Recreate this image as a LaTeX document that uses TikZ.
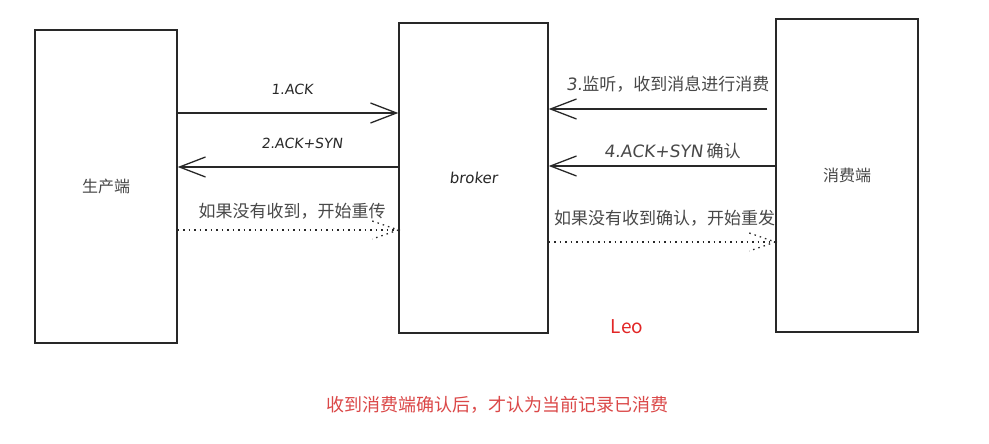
\documentclass[tikz,border=0pt]{standalone}
\usepackage{fontspec}
\newfontfamily\cjk{Noto Sans CJK SC}
\newfontfamily\hand[FakeSlant=0.12]{DejaVu Sans}
\usetikzlibrary{arrows.meta,calc}

\definecolor{leored}{RGB}{226,38,38}
\definecolor{notered}{RGB}{219,72,72}
\definecolor{ink}{RGB}{40,40,40}

\tikzset{
  party/.style={draw=ink, line width=1.4pt, fill=white, inner sep=0pt},
  msg/.style={draw=ink, line width=1.3pt, -{Straight Barb[length=26pt,width=20pt,line width=1.3pt]}},
  retry/.style={draw=ink, line width=1.3pt, dash pattern=on 1.5pt off 4pt},
  steplabel/.style={font=\hand\fontsize{14}{16}\selectfont, text=ink},
  cnlabel/.style={font=\cjk\fontsize{17}{20}\selectfont, text=ink!85},
}

\newcommand{\dotchevron}[1]{%
  \draw[retry] ($(#1)+(-26,-9)$) -- (#1) -- ($(#1)+(-26,9)$);}

\begin{document}
\begin{tikzpicture}[x=1pt,y=-1pt]

\useasboundingbox[fill=white] (0,0) rectangle (989,444);

% =========================
% the three parties
% =========================
\node[party, minimum width=142pt, minimum height=313pt] (prod) at (106,186.5) {};
\node[party, minimum width=149pt, minimum height=310pt] (broker) at (473.5,178) {};
\node[party, minimum width=142pt, minimum height=313pt] (cons) at (847,175.5) {};

\node[font=\cjk\fontsize{16}{18}\selectfont, text=ink!85] (prodname) at (prod) {生产端};
\node[font=\hand\fontsize{15}{17}\selectfont, text=ink] (brokername) at (broker) {broker};
\node[font=\cjk\fontsize{16}{18}\selectfont, text=ink!85] (consname) at (cons) {消费端};

% =========================
% producer <-> broker
% =========================
\coordinate (y1) at (0,113);
\coordinate (y2) at (0,167);
\coordinate (y3) at (0,230);

\draw[msg] (prod.east |- y1) -- (broker.west |- y1);
\draw[msg] (broker.west |- y2) -- (prod.east |- y2);

\coordinate (r1end) at (broker.west |- y3);
\draw[retry] (prod.east |- y3) -- (r1end);
\dotchevron{r1end}

\node[steplabel] (lbl1) at (292,89) {1.ACK};
\node[steplabel] (lbl2) at (302,143) {2.ACK+SYN};
\node[cnlabel] (lbl3) at (292,211) {如果没有收到，开始重传};

% =========================
% broker <-> consumer
% =========================
\coordinate (y4) at (0,109);
\coordinate (y5) at (0,166);
\coordinate (y6) at (0,242);

\draw[msg] ($(cons.west |- y4)+(-8,0)$) -- (broker.east |- y4);
\draw[msg] (cons.west |- y5) -- (broker.east |- y5);

\coordinate (r2end) at (cons.west |- y6);
\draw[retry] (broker.east |- y6) -- (r2end);
\dotchevron{r2end}

\node[cnlabel, anchor=west, inner sep=0pt] (lbl4) at (566,84) {{\hand 3.}监听，收到消息进行消费};
\node[cnlabel, anchor=west, inner sep=0pt] (lbl5) at (604,151) {{\hand 4.ACK+SYN}\ 确认};
\node[cnlabel, anchor=west, inner sep=0pt] (lbl6) at (554,218) {如果没有收到确认，开始重发};

% =========================
% notes
% =========================
\node[font=\cjk\fontsize{19}{22}\selectfont, text=leored] (leo) at (627,327) {Leo};
\node[font=\cjk\fontsize{18}{21}\selectfont, text=notered] (note) at (497,405) {收到消费端确认后，才认为当前记录已消费};

\end{tikzpicture}
\end{document}
